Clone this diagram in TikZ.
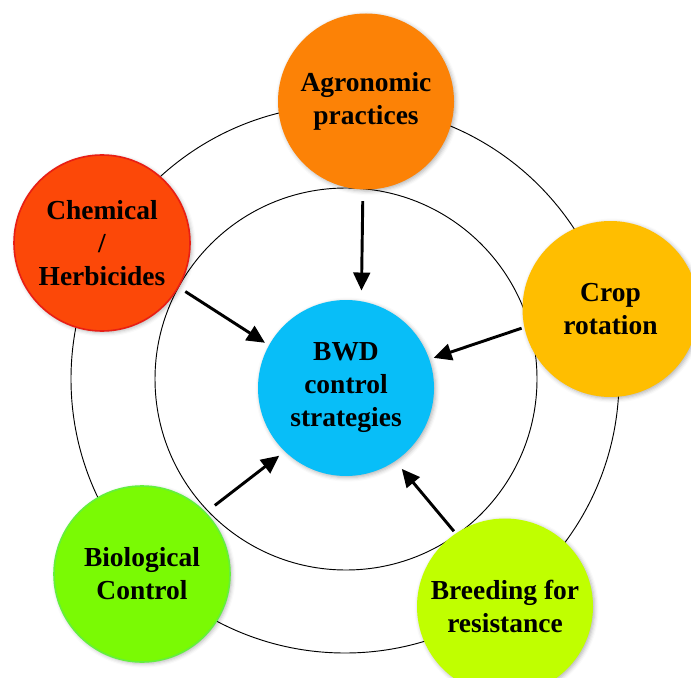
\documentclass[tikz,border=0pt]{standalone}
\usepackage{fontspec}
\setmainfont{Liberation Serif}
\usetikzlibrary{arrows.meta,shadows.blur}

\definecolor{agrofill}{RGB}{252,130,6}
\definecolor{chemfill}{RGB}{252,72,8}
\definecolor{chemline}{RGB}{232,30,20}
\definecolor{cropfill}{RGB}{255,190,0}
\definecolor{bwdfill}{RGB}{8,190,248}
\definecolor{biofill}{RGB}{122,250,4}
\definecolor{bioline}{RGB}{100,240,60}
\definecolor{breedfill}{RGB}{192,255,0}

\begin{document}
\begin{tikzpicture}[x=0.75pt,y=-0.75pt,
  disc/.style={circle, minimum size=132pt, inner sep=0pt, align=center,
    font=\bfseries\fontsize{20.6}{24.75}\selectfont,
    blur shadow={shadow xshift=1.2pt, shadow yshift=-1.2pt, shadow blur radius=3pt, shadow opacity=30}},
  ring/.style={draw=black, line width=0.7pt},
  arr/.style={-{Triangle[length=13.5pt,width=12.5pt]}, line width=2.2pt}]

\useasboundingbox (0,0) rectangle (691,677);
\clip (0,0) rectangle (691,677);

% concentric guide rings
\draw[ring] (346,379) circle[radius=191];
\draw[ring] (345,379) circle[radius=274];

% hub and surrounding strategy discs
\node[disc, fill=bwdfill]   (bwd)   at (346,388)   {BWD\\control\\strategies};
\node[disc, fill=agrofill]  (agro)  at (366,101.5) {Agronomic\\practices};
\node[disc, fill=chemfill, draw=chemline, line width=1.2pt] (chem) at (102,243) {Chemical\\/\\Herbicides};
\node[disc, fill=cropfill]  (crop)  at (610.5,309) {Crop\\rotation};
\node[disc, fill=biofill, draw=bioline, line width=1.2pt] (bio) at (142,574) {Biological\\Control};
\node[disc, fill=breedfill] (breed) at (505,606.5) {Breeding for\\resistance};

% arrows pointing into the hub
\draw[arr, shorten <=8.6pt, shorten >=7.9pt] (agro.268) -- (bwd.80);
\draw[arr, shorten <=5.7pt, shorten >=3.4pt] (chem.330) -- (bwd.151.6);
\draw[arr, shorten <=2pt,   shorten >=3.3pt] (crop.192.5) -- (bwd.19.6);
\draw[arr, shorten <=8.5pt, shorten >=5.2pt] (bio.44.8) -- (bwd.226);
\draw[arr, shorten <=2pt,   shorten >=7.5pt] (breed.124) -- (bwd.304.4);
\end{tikzpicture}
\end{document}
